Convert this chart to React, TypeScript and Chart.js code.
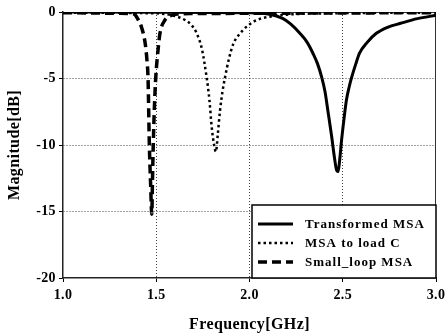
import React, { useEffect, useRef } from "react";
import { Chart, registerables } from "chart.js";
Chart.register(...registerables);

const seriesLabels = ["Transformed MSA", "MSA to load C", "Small_loop MSA"];

const transformedFreq = [1.0, 1.5, 2.0, 2.1, 2.18, 2.22, 2.27, 2.31, 2.34, 2.365, 2.387, 2.405, 2.42, 2.44, 2.455, 2.467, 2.475, 2.483, 2.494, 2.507, 2.52, 2.535, 2.548, 2.57, 2.59, 2.63, 2.68, 2.74, 2.81, 2.9, 3.0];
const transformedMag = [0, -0.02, -0.05, -0.15, -0.5, -0.9, -1.6, -2.3, -3.1, -3.9, -4.9, -6.0, -7.4, -9.3, -10.9, -11.9, -12.0, -11.2, -9.6, -8.0, -6.6, -5.6, -4.9, -3.9, -3.1, -2.3, -1.6, -1.15, -0.85, -0.5, -0.25];

const loadCFreq = [1.0, 1.5, 1.6, 1.654, 1.69, 1.717, 1.745, 1.77, 1.785, 1.797, 1.81, 1.82, 1.83, 1.842, 1.855, 1.869, 1.89, 1.913, 1.95, 1.985, 2.04, 2.11, 2.2, 2.4, 3.0];
const loadCMag = [-0.05, -0.1, -0.3, -0.6, -1.0, -1.6, -2.8, -4.9, -6.6, -8.6, -10.0, -10.5, -9.2, -7.4, -6.0, -4.9, -3.5, -2.4, -1.6, -1.1, -0.6, -0.35, -0.2, -0.1, -0.05];

const smallLoopFreq = [1.0, 1.2, 1.3, 1.38, 1.4, 1.42, 1.44, 1.45, 1.456, 1.463, 1.47, 1.476, 1.48, 1.484, 1.49, 1.497, 1.51, 1.52, 1.547, 1.58, 1.62, 1.7, 2.0, 3.0];
const smallLoopMag = [-0.05, -0.08, -0.1, -0.15, -0.5, -1.1, -2.3, -3.6, -5.0, -10.0, -13.0, -15.2, -12.5, -10.0, -7.2, -5.0, -2.8, -1.6, -0.6, -0.25, -0.15, -0.12, -0.1, -0.05];

const xTickValues = [1.0, 1.5, 2.0, 2.5, 3.0];
const yTickValues = [0, -5, -10, -15, -20];

const FONT = "'Liberation Serif', 'Times New Roman', serif";

function pts(xs: number[], ys: number[]) {
  return xs.map((x, i) => ({ x, y: ys[i] }));
}

const frameAndLegend = {
  id: "frameAndLegend",
  beforeDraw(chart: any) {
    (chart.ctx as any).letterSpacing = "0.4px";
  },
  beforeDatasetsDraw(chart: any) {
    const { ctx, chartArea: a } = chart;
    ctx.save();
    ctx.strokeStyle = "#333";
    ctx.lineWidth = 1;
    ctx.beginPath();
    ctx.moveTo(a.left, a.top + 0.5);
    ctx.lineTo(a.right - 0.5, a.top + 0.5);
    ctx.lineTo(a.right - 0.5, a.bottom);
    ctx.stroke();
    ctx.restore();
  },
  afterDraw(chart: any) {
    const { ctx, chartArea: a } = chart;
    const bx = 252, by = 205;
    const bw = a.right - bx, bh = a.bottom - by;
    ctx.save();
    ctx.fillStyle = "#fff";
    ctx.fillRect(bx, by, bw, bh);
    ctx.strokeStyle = "#000";
    ctx.lineWidth = 1.5;
    ctx.strokeRect(bx, by, bw, bh);
    const ds = chart.data.datasets;
    ds.forEach((d: any, i: number) => {
      const y = by + 19 + i * 19;
      ctx.save();
      ctx.strokeStyle = "#000";
      ctx.lineWidth = d.borderWidth;
      ctx.setLineDash(d.borderDash || []);
      ctx.beginPath();
      ctx.moveTo(258, y);
      ctx.lineTo(293, y);
      ctx.stroke();
      ctx.restore();
      ctx.fillStyle = "#000";
      ctx.font = `bold 13px ${FONT}`;
      (ctx as any).letterSpacing = "1px";
      ctx.textBaseline = "middle";
      ctx.textAlign = "left";
      ctx.fillText(d.label, 305, y + 1);
    });
    ctx.restore();
  },
};

export default function App() {
  const ref = useRef<HTMLCanvasElement | null>(null);
  useEffect(() => {
    document.body.style.margin = "0";
    const canvas = ref.current!;
    const edgeX = (c: any) => (c.tick && (c.tick.value === 1 || c.tick.value === 3) ? "rgba(0,0,0,0)" : "#444");
    const edgeY = (c: any) => (c.tick && (c.tick.value === 0 || c.tick.value === -20) ? "rgba(0,0,0,0)" : "#444");
    const chart = new Chart(canvas, {
      type: "line",
      data: {
        datasets: [
          {
            label: seriesLabels[0],
            data: pts(transformedFreq, transformedMag),
            borderColor: "#000",
            borderWidth: 3,
            borderDash: [],
            pointRadius: 0,
            cubicInterpolationMode: "monotone",
          },
          {
            label: seriesLabels[1],
            data: pts(loadCFreq, loadCMag),
            borderColor: "#000",
            borderWidth: 2.5,
            borderDash: [2.5, 3],
            pointRadius: 0,
            cubicInterpolationMode: "monotone",
          },
          {
            label: seriesLabels[2],
            data: pts(smallLoopFreq, smallLoopMag),
            borderColor: "#000",
            borderWidth: 3.5,
            borderDash: [9, 5],
            pointRadius: 0,
            cubicInterpolationMode: "monotone",
          },
        ],
      },
      options: {
        responsive: false,
        animation: false,
        devicePixelRatio: 1,
        layout: { padding: { top: 12, right: 10, left: 0, bottom: 0 } },
        plugins: { legend: { display: false }, tooltip: { enabled: false } },
        scales: {
          x: {
            type: "linear",
            min: 1,
            max: 3,
            afterBuildTicks: (s: any) => {
              s.ticks = xTickValues.map((v) => ({ value: v }));
            },
            afterFit: (s: any) => {
              s.height = 56;
              s.paddingLeft = 0;
              s.paddingRight = 0;
            },
            ticks: {
              callback: (v: any) => Number(v).toFixed(1),
              color: "#000",
              font: { family: FONT, size: 14, weight: "bold" },
              padding: 5,
              maxRotation: 0,
            },
            grid: { color: edgeX, tickColor: "#000", tickLength: 4, tickBorderDash: [], lineWidth: 1 },
            border: { color: "#222", width: 1.5, dash: [1, 2] },
            title: {
              display: true,
              text: "Frequency[GHz]",
              color: "#000",
              font: { family: FONT, size: 16, weight: "bold" },
              padding: { top: 0, bottom: 0 },
            },
          },
          y: {
            type: "linear",
            min: -20,
            max: 0,
            afterBuildTicks: (s: any) => {
              s.ticks = yTickValues.slice().reverse().map((v) => ({ value: v }));
            },
            afterFit: (s: any) => {
              s.width = 63;
              s.paddingTop = 0;
              s.paddingBottom = 0;
            },
            ticks: {
              callback: (v: any) => String(v),
              color: "#000",
              font: { family: FONT, size: 14, weight: "bold" },
              padding: 3,
            },
            grid: { color: edgeY, tickColor: "#000", tickLength: 4, tickBorderDash: [], lineWidth: 1 },
            border: { color: "#222", width: 1.5, dash: [1, 2] },
            title: {
              display: true,
              text: "Magnitude[dB]",
              color: "#000",
              font: { family: FONT, size: 16, weight: "bold" },
              padding: { top: 5, bottom: 0 },
            },
          },
        },
      },
      plugins: [frameAndLegend],
    } as any);
    return () => chart.destroy();
  }, []);
  return (
    <div style={{ width: 446, height: 334, background: "#fff" }}>
      <canvas ref={ref} width={446} height={334} style={{ display: "block" }} />
    </div>
  );
}
